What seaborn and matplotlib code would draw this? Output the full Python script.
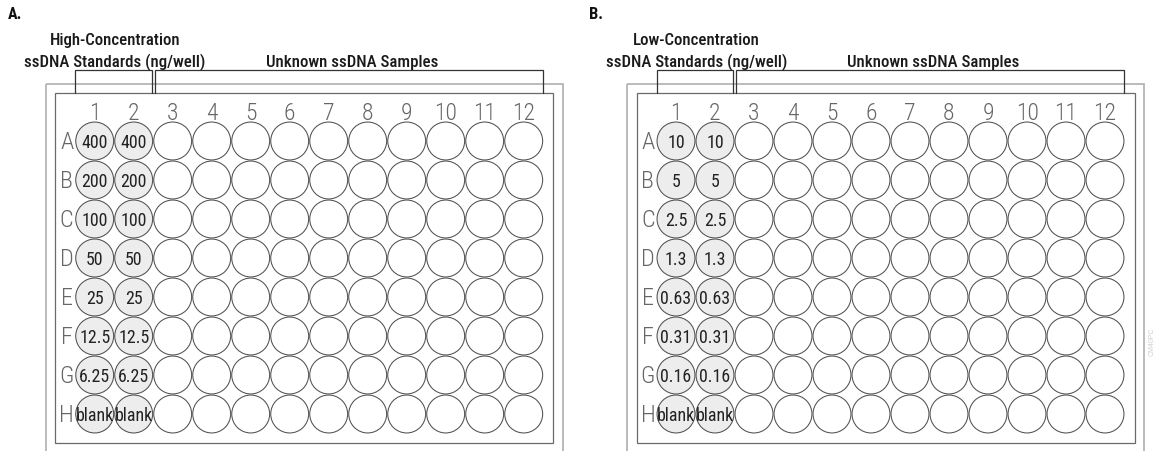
import matplotlib
matplotlib.use("Agg")
import matplotlib.pyplot as plt
from matplotlib.patches import Rectangle
from matplotlib import font_manager
import seaborn as sns
import pandas as pd

# ---------------- data ----------------
rows = list("ABCDEFGH")
columns = list(range(1, 13))
standard_columns = [1, 2]
high_standards = ["400", "200", "100", "50", "25", "12.5", "6.25", "blank"]
low_standards = ["10", "5", "2.5", "1.3", "0.63", "0.31", "0.16", "blank"]
panel_letters = ["A.", "B."]
standard_titles = ["High-Concentration", "Low-Concentration"]
standard_subtitle = "ssDNA Standards (ng/well)"
sample_title = "Unknown ssDNA Samples"
watermark = "CM40PC"

# ---------------- style ----------------
sns.set_theme(style="white")
names = {f.name for f in font_manager.fontManager.ttflist}
cand = ["Roboto Condensed", "Liberation Sans Narrow", "Nimbus Sans Narrow",
        "Arial Narrow", "DejaVu Sans Condensed", "Roboto", "Liberation Sans"]
COND = next((c for c in cand if c in names), "DejaVu Sans")
cond = [COND, "DejaVu Sans"]
plt.rcParams["font.family"] = ["Liberation Sans", "DejaVu Sans"]

W, H = 1158, 452
PITCH = 39.0          # px per well
ROW_A_PX = 142.0      # y centre of row A (px from top)

fig = plt.figure(figsize=(W / 100, H / 100), dpi=100)
fig.patch.set_facecolor("white")
renderer = fig.canvas.get_renderer()


def fit(t, target_px):
    """scale a text's font size so that its rendered width equals target_px"""
    w = t.get_window_extent(renderer=renderer).width
    if w > 0:
        t.set_fontsize(t.get_fontsize() * target_px / w)
    return t


def fitted_size(ax, s, target_px, **kw):
    t = ax.text(0, 0, s, fontsize=12, **kw)
    fit(t, target_px)
    size = t.get_fontsize()
    t.remove()
    return size


def draw_panel(left_px, width_px, col1_px, letter, title, stds):
    ax = fig.add_axes([left_px / W, 0, width_px / W, 1])
    recs = []
    for ri, r in enumerate(rows):
        for c in columns:
            std = c in standard_columns
            recs.append({"col": c, "row": ri + 1,
                         "kind": "standard" if std else "sample",
                         "label": stds[ri] if std else ""})
    df = pd.DataFrame(recs)

    # plate outlines
    ax.add_patch(Rectangle((-0.25, -0.46), 13.26, 11, fill=False,
                           edgecolor="#b5b5b5", linewidth=1.3, zorder=1))
    ax.add_patch(Rectangle((-0.01, -0.23), 12.77, 8.97, facecolor="white",
                           edgecolor="#6a6a6a", linewidth=0.9, zorder=2))

    ax.set_xlim(1 - col1_px / PITCH, 1 + (width_px - col1_px) / PITCH)
    ax.set_ylim(1 + (H - ROW_A_PX) / PITCH, 1 - ROW_A_PX / PITCH)

    sns.scatterplot(data=df, x="col", y="row", hue="kind",
                    palette={"standard": "#ededed", "sample": "white"},
                    s=745, edgecolor="#505050", linewidth=0.75,
                    legend=False, ax=ax, zorder=3)

    well_size = fitted_size(ax, "12.5", 31, family=cond)
    for _, rec in df[df["kind"] == "standard"].iterrows():
        ax.text(rec["col"], rec["row"] + 0.02, rec["label"], ha="center",
                va="center", fontsize=well_size, color="#222222", zorder=4,
                family=cond)

    num_size = fitted_size(ax, "10", 23, family=cond, fontweight="light")
    for c in columns:
        ax.text(c, 0.27, str(c), ha="center", va="center", fontweight="light",
                fontsize=num_size, color="#666666", family=cond)
    for ri, r in enumerate(rows):
        ax.text(0.28, ri + 1.02, r, ha="center", va="center", fontweight="light",
                fontsize=num_size * 1.03, color="#666666", family=cond)

    # brackets
    top, bot = -0.81, -0.23
    lo, hi = min(standard_columns), max(standard_columns)
    for x0, x1 in [(lo - 0.5, hi + 0.47), (hi + 0.55, max(columns) + 0.49)]:
        ax.plot([x0, x0, x1, x1], [bot, top, top, bot], color="#333333",
                linewidth=0.9, solid_joinstyle="miter", zorder=2)

    t = ax.text(-1.22, -2.28, letter, ha="left", va="center", fontsize=12,
                fontweight="bold", color="#111111", family=cond)
    fit(t, 14)
    hs = fitted_size(ax, standard_subtitle, 181, family=cond, fontweight="medium")
    ax.text(1.52, -1.05, standard_subtitle, ha="center", va="center",
            fontsize=hs, color="#1a1a1a", family=cond, fontweight="medium")
    ax.text(1.52, -1.59, title, ha="center", va="center", fontsize=hs,
            color="#1a1a1a", family=cond, fontweight="medium")
    ax.text(7.6, -1.05, sample_title, ha="center", va="center",
            fontsize=hs, color="#1a1a1a", family=cond, fontweight="medium")

    ax.set_axis_off()
    return ax


draw_panel(0, 579, 94.7, panel_letters[0], standard_titles[0], high_standards)
draw_panel(579, 579, 97.0, panel_letters[1], standard_titles[1], low_standards)

fig.text(1152 / W, 1 - 342 / H, watermark, rotation=90, fontsize=5,
         color="#cfcfcf", ha="center", va="center")

fig.savefig("out.png", dpi=100, facecolor="white")
